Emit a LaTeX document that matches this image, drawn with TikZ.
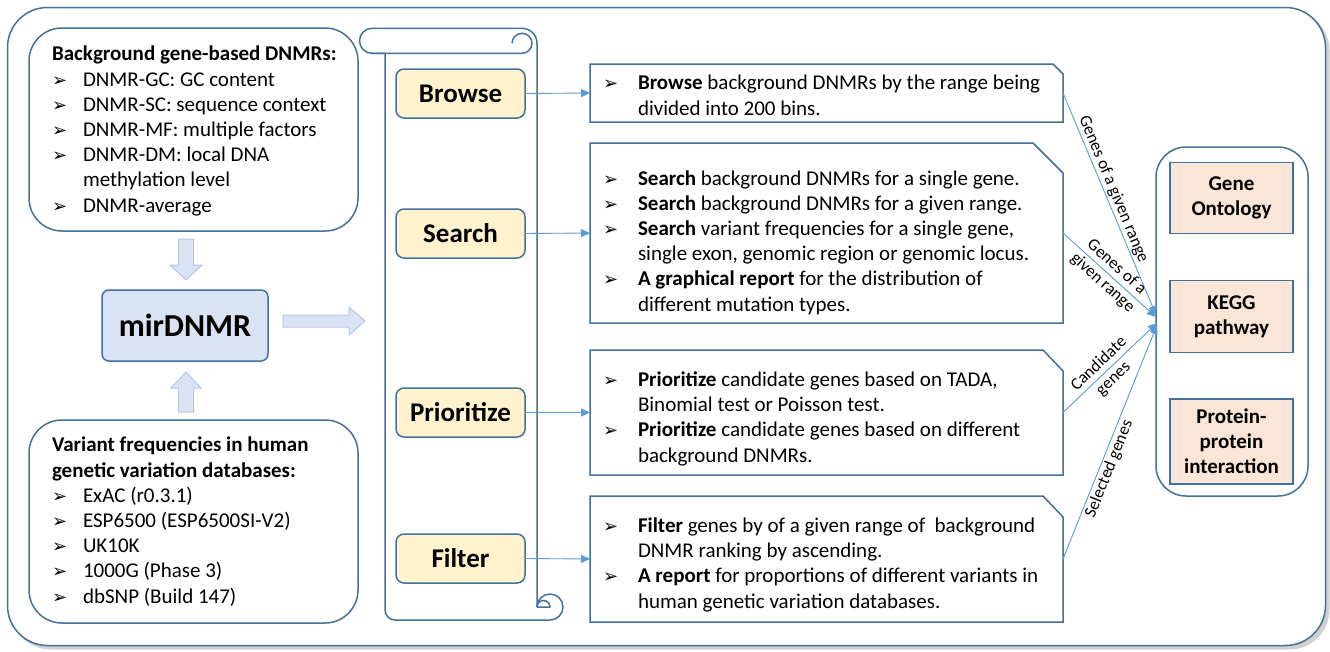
\documentclass[tikz,border=0pt]{standalone}
\usepackage{fontspec}
\setmainfont{Carlito}
\newfontfamily\dejavu{DejaVu Sans}
\usetikzlibrary{arrows.meta}
\definecolor{edgeblue}{HTML}{41719C}
\definecolor{linkblue}{HTML}{5B9BD5}
\definecolor{btnfill}{HTML}{FFF2CC}
\definecolor{peach}{HTML}{FBE5D6}
\definecolor{mirfill}{HTML}{DAE3F3}
\definecolor{arrowedge}{HTML}{B4C7E7}
\newcommand\bulA{\makebox[31pt][l]{\dejavu\fontsize{18}{18}\selectfont ➢}}
\newcommand\bulB{\makebox[35pt][l]{\dejavu\fontsize{18}{18}\selectfont ➢}}
\tikzset{
  boxline/.style={draw=edgeblue, line width=1.5pt},
  roundbox/.style={boxline, rectangle, rounded corners=33pt, inner sep=0pt, outer sep=0pt, anchor=north west},
  txt/.style={inner sep=0pt, outer sep=0pt, align=left, anchor=base west, font=\fontsize{21}{25.2}\selectfont},
  btn/.style={boxline, fill=btnfill, rounded corners=8pt, minimum width=129pt, minimum height=49pt, inner sep=0pt, outer sep=0pt, font=\bfseries\fontsize{27}{30}\selectfont},
  item/.style={boxline, fill=peach, minimum width=123pt, inner sep=0pt, outer sep=0pt, align=center, font=\bfseries\fontsize{21}{25}\selectfont},
  blockarrow/.style={fill=mirfill, draw=arrowedge, line width=1pt},
  snipbox/.style={rectangle, inner sep=0pt, outer sep=0pt, minimum width=473pt, anchor=north west},
  link/.style={draw=linkblue, line width=0.9pt, -{Triangle[length=9pt,width=8pt]}},
  lbl/.style={font=\fontsize{17}{21}\selectfont, sloped, inner sep=1.5pt, align=center},
  scrollline/.style={draw=edgeblue, line width=1.5pt, line join=round}
}
\begin{document}
\begin{tikzpicture}[x=1pt,y=-1pt]
\useasboundingbox (0,0) rectangle (1330,651);
% outer frame with shadow
\fill[black!18, rounded corners=40pt] (10.5,10.5) rectangle (1329.5,649.5);
\node[roundbox, fill=white, rounded corners=40pt, minimum width=1318pt, minimum height=638pt] (frame) at (7.5,7.5) {};

% left boxes
\node[roundbox, minimum width=329pt, minimum height=203pt] (bgbox) at (29,28) {};
\node[txt] (bgtext) at (52,212) {\textbf{Background gene-based DNMRs:}\\
\bulA DNMR-GC: GC content\\
\bulA DNMR-SC: sequence context\\
\bulA DNMR-MF: multiple factors\\
\bulA DNMR-DM: local DNA\\
\hspace*{31pt}methylation level\\
\bulA DNMR-average};

\node[roundbox, minimum width=329pt, minimum height=203pt] (varbox) at (29,420) {};
\node[txt] (vartext) at (52,603) {\textbf{Variant frequencies in human}\\
\textbf{genetic variation databases:}\\
\bulA ExAC (r0.3.1)\\
\bulA ESP6500 (ESP6500SI-V2)\\
\bulA UK10K\\
\bulA 1000G (Phase 3)\\
\bulA dbSNP (Build 147)};

% mirDNMR
\node[boxline, fill=mirfill, rounded corners=7pt, minimum width=166pt, minimum height=71pt, inner sep=0pt, font=\bfseries\fontsize{32}{36}\selectfont] (mir) at (185,325.5) {mirDNMR};

% block arrows
\draw[blockarrow] (178.5,239) -- (193.5,239) -- (193.5,265) -- (202,265) -- (186,280) -- (170,265) -- (178.5,265) -- cycle;
\draw[blockarrow] (178.5,412) -- (193.5,412) -- (193.5,388) -- (201,388) -- (186,372) -- (171,388) -- (178.5,388) -- cycle;
\draw[blockarrow] (283,315) -- (349,315) -- (349,307) -- (365,321) -- (349,335) -- (349,327) -- (283,327) -- cycle;

% scroll
\draw[scrollline] (385,53.3) -- (372,53.3) arc[start angle=90, end angle=270, radius=12.5] -- (522,28.3) arc[start angle=270, end angle=360, radius=15] -- (537,607);
\draw[scrollline] (372,53.3) -- (522,53.3) arc[start angle=90, end angle=-180, radius=10];
\draw[scrollline, rounded corners=10pt] (385,53.3) -- (385,620) -- (550,620);
\draw[scrollline] (550,620) arc[start angle=90, end angle=-180, radius=13];
\draw[scrollline] (537,607) -- (550,607) arc[start angle=0, end angle=-180, radius=6.5];

% buttons
\node[btn] (browse) at (460.5,93.5) {Browse};
\node[btn] (search) at (460.5,233.5) {Search};
\node[btn] (prior) at (460.5,412.5) {Prioritize};
\node[btn] (filter) at (460.5,558.5) {Filter};

% right snipped boxes
\node[snipbox, minimum height=58pt] (b1) at (590,64) {};
\node[snipbox, minimum height=180pt] (b2) at (590,143) {};
\node[snipbox, minimum height=125pt] (b3) at (590,350) {};
\node[snipbox, minimum height=126pt] (b4) at (590,496) {};
\draw[boxline] (b1.north west) -- ([xshift=-10pt]b1.north east) -- ([yshift=-10pt]b1.north east) -- (b1.south east) -- (b1.south west) -- cycle;
\draw[boxline] (b2.north west) -- ([xshift=-30pt]b2.north east) -- ([yshift=-30pt]b2.north east) -- (b2.south east) -- (b2.south west) -- cycle;
\draw[boxline] (b3.north west) -- ([xshift=-20pt]b3.north east) -- ([yshift=-21pt]b3.north east) -- (b3.south east) -- (b3.south west) -- cycle;
\draw[boxline] (b4.north west) -- ([xshift=-20pt]b4.north east) -- ([yshift=-21pt]b4.north east) -- (b4.south east) -- (b4.south west) -- cycle;

\node[txt] (t1) at (603,115) {\bulB\textbf{Browse} background DNMRs by the range being\\
\hspace*{35pt}divided into 200 bins.};
\node[txt] (t2) at (603,311) {\bulB\textbf{Search} background DNMRs for a single gene.\\
\bulB\textbf{Search} background DNMRs for a given range.\\
\bulB\textbf{Search} variant frequencies for a single gene,\\
\hspace*{35pt}single exon, genomic region or genomic locus.\\
\bulB\textbf{A graphical report} for the distribution of\\
\hspace*{35pt}different mutation types.};
\node[txt] (t3) at (603,462) {\bulB\textbf{Prioritize} candidate genes based on TADA,\\
\hspace*{35pt}Binomial test or Poisson test.\\
\bulB\textbf{Prioritize} candidate genes based on different\\
\hspace*{35pt}background DNMRs.};
\node[txt] (t4) at (603,608) {\bulB\textbf{Filter} genes by of a given range of\ \ background\\
\hspace*{35pt}DNMR ranking by ascending.\\
\bulB\textbf{A report} for proportions of different variants in\\
\hspace*{35pt}human genetic variation databases.};

% button links
\draw[link] (browse.east) -- (b1.west);
\draw[link] (search.east) -- (b2.west);
\draw[link] (prior.east) -- (b3.west);
\draw[link] (filter.east) -- (b4.west);

% analysis container
\node[roundbox, rounded corners=30pt, minimum width=152pt, minimum height=349pt] (ana) at (1156,147) {};
\node[item, minimum height=71pt] (go) at (1231.5,198) {Gene\\Ontology};
\node[item, minimum height=72pt] (kegg) at (1231.5,316.5) {KEGG\\pathway};
\node[item, minimum height=85pt] (ppi) at (1231.5,441.5) {Protein-\\protein\\interaction};

% hub links
\coordinate (h1) at (1156,315);
\coordinate (h2) at (1156,317);
\coordinate (h3) at (1157,323);
\coordinate (h4) at (1157,325);
\draw[link] (b1.east) -- node[lbl, above, pos=0.45] (l1) {Genes of a given range} (h1);
\draw[link] (b2.east) -- node[lbl, pos=0.5] (l2) {Genes of a\\given range} (h2);
\draw[link] (b3.east) -- node[lbl, pos=0.46] (l3) {Candidate\\genes} (h3);
\draw[link] (b4.east) -- node[lbl, below, pos=0.4] (l4) {Selected genes} (h4);
\end{tikzpicture}
\end{document}
